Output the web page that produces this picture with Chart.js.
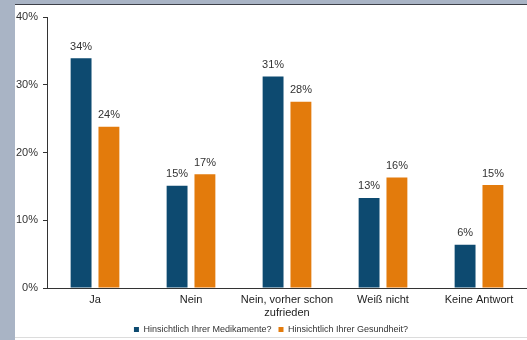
<!DOCTYPE html>
<html>
<head>
<meta charset="utf-8">
<script src="https://cdn.jsdelivr.net/npm/chart.js@4.4.0/dist/chart.umd.min.js"></script>
<style>
  html, body { margin: 0; padding: 0; }
  body { width: 527px; height: 340px; background: #a9b4c5; position: relative; overflow: hidden; }
  #frame { position: absolute; left: 15px; top: 4px; width: 512px; height: 336px; background: #fff; border-top: 1px solid #3d4048; }
  #wrap { position: absolute; left: 0; top: 0; width: 512px; height: 339px; }
  #bottomline { position: absolute; left: 0; top: 332px; width: 512px; height: 1px; background: #dcdcdc; }
</style>
</head>
<body>
<div id="frame"><div id="bottomline"></div><div id="wrap"><canvas id="myChart"></canvas></div></div>
<script>
// categories and values
const categories = ['Ja', 'Nein', ['Nein, vorher schon', 'zufrieden'], 'Weiß nicht', 'Keine Antwort'];
const medikamente = [33.9, 15.1, 31.2, 13.3, 6.4];
const gesundheit = [23.8, 16.8, 27.5, 16.3, 15.2];
const seriesNames = ['Hinsichtlich Ihrer Medikamente?', 'Hinsichtlich Ihrer Gesundheit?'];
const yTicks = [0, 10, 20, 30, 40];

const fontFamily = '"Liberation Sans", Arial, sans-serif';

// draw the percent labels above each bar
const valueLabels = {
  id: 'valueLabels',
  afterDatasetsDraw(chart) {
    const ctx = chart.ctx;
    ctx.save();
    ctx.font = '11px ' + fontFamily;
    ctx.fillStyle = '#333';
    ctx.textAlign = 'center';
    ctx.textBaseline = 'bottom';
    chart.data.datasets.forEach((ds, i) => {
      chart.getDatasetMeta(i).data.forEach((bar, j) => {
        ctx.fillText(Math.round(ds.data[j]) + '%', bar.x, bar.y - 6);
      });
    });
    ctx.restore();
  }
};

const ctx = document.getElementById('myChart').getContext('2d');
const myChart = new Chart(ctx, {
  type: 'bar',
  data: {
    labels: categories,
    datasets: [{
      label: seriesNames[0],
      data: medikamente,
      backgroundColor: '#0d4a70'
    }, {
      label: seriesNames[1],
      data: gesundheit,
      backgroundColor: '#e37b0c'
    }]
  },
  options: {
    responsive: true,
    maintainAspectRatio: false,
    animation: false,
    categoryPercentage: 0.58,
    barPercentage: 0.75,
    layout: { padding: { top: 12, right: 0, left: 0, bottom: 0 } },
    plugins: {
      legend: {
        display: true,
        position: 'bottom',
        labels: {
          usePointStyle: true,
          pointStyle: 'rect',
          boxWidth: 5,
          boxHeight: 5,
          padding: 7,
          color: '#333',
          font: { family: fontFamily, size: 9 }
        }
      },
      tooltip: { enabled: false }
    },
    scales: {
      x: {
        grid: { display: true, drawOnChartArea: false, drawTicks: false },
        border: { color: '#333', width: 1 },
        ticks: { color: '#222', padding: 5, font: { family: fontFamily, size: 11, lineHeight: 1.2 }, maxRotation: 0 },
        afterFit: s => { s.height = 30; }
      },
      y: {
        min: 0,
        max: 40,
        afterBuildTicks: s => { s.ticks = yTicks.map(v => ({ value: v })); },
        grid: { display: true, drawOnChartArea: false, tickLength: 4, color: '#333' },
        border: { color: '#333', width: 1 },
        ticks: { color: '#333', padding: 5, font: { family: fontFamily, size: 11 }, callback: v => v + '%' },
        afterFit: s => { s.width = 32; }
      }
    }
  },
  plugins: [valueLabels]
});
</script>
</body>
</html>
